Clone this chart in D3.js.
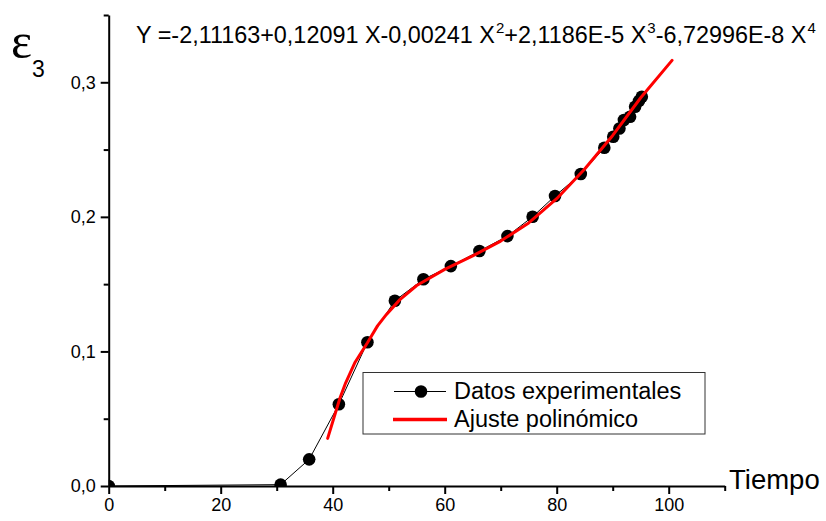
<!DOCTYPE html>
<html>
<head>
<meta charset="utf-8">
<script src="https://cdn.jsdelivr.net/npm/d3@7"></script>
<style>
  html, body { margin: 0; padding: 0; background: #fff; }
  svg { display: block; font-family: "Liberation Sans", Arial, sans-serif; }
</style>
</head>
<body>
<svg id="chart" width="826" height="521"></svg>
<script>
// Experimental strain measurements (time, ε3)
const expTime = [0, 30.7, 35.8, 41.1, 46.2, 51.1, 56.2, 61.1, 66.2, 71.2, 75.7, 79.7, 84.3, 88.5, 90.1, 91.2, 92.0, 93.1, 94.0, 94.7, 95.2];
const expStrain = [0, 0.001, 0.0198, 0.0607, 0.1068, 0.1377, 0.1536, 0.1634, 0.1746, 0.1857, 0.2001, 0.2155, 0.2318, 0.2513, 0.2595, 0.2657, 0.272, 0.2744, 0.2818, 0.2862, 0.2892];

// Polynomial fit curve, sampled points
const fitTime = [39.1, 41.3, 42.3, 44.0, 46.2, 48.0, 49.6, 52.0, 55.0, 60.0, 65.0, 70.0, 75.0, 80.0, 85.0, 90.0, 95.0, 100.6];
const fitStrain = [0.0354, 0.0654, 0.0765, 0.092, 0.1065, 0.119, 0.1275, 0.1385, 0.149, 0.161, 0.171, 0.182, 0.1955, 0.2135, 0.2355, 0.2605, 0.2885, 0.3163];

// Axis ticks
const xMajor = [0, 20, 40, 60, 80, 100];
const xMinor = [10, 30, 50, 70, 90, 110];
const yMajor = [0, 0.1, 0.2, 0.3];
const yMinor = [0.05, 0.15, 0.25, 0.35];

const equation = [
  {t: "Y =-2,11163+0,12091 X-0,00241 X", sup: false},
  {t: "2", sup: true},
  {t: "+2,1186E-5 X", sup: false},
  {t: "3", sup: true},
  {t: "-6,72996E-8 X", sup: false},
  {t: "4", sup: true}
];

const svg = d3.select("#chart");
const x = d3.scaleLinear().domain([0, 110]).range([108.7, 724.7]);
const y = d3.scaleLinear().domain([0, 0.35]).range([486, 15]);

const comma = d => d3.format(".1f")(d).replace(".", ",");

// clip marks to the plotting area
svg.append("defs").append("clipPath").attr("id", "plotArea")
  .append("rect")
  .attr("x", x(0)).attr("y", y(0.35))
  .attr("width", x(110) - x(0)).attr("height", y(0) - y(0.35));

const plot = svg.append("g").attr("clip-path", "url(#plotArea)");

const expData = expTime.map((t, i) => [t, expStrain[i]]);
const fitData = fitTime.map((t, i) => [t, fitStrain[i]]);

const line = d3.line().x(d => x(d[0])).y(d => y(d[1]));

plot.append("path").datum(expData)
  .attr("d", line)
  .attr("fill", "none").attr("stroke", "#000").attr("stroke-width", 1);

plot.selectAll("circle.pt").data(expData).enter().append("circle")
  .attr("class", "pt")
  .attr("cx", d => x(d[0])).attr("cy", d => y(d[1]))
  .attr("r", 6.3).attr("fill", "#000");

plot.append("path").datum(fitData)
  .attr("d", line)
  .attr("fill", "none").attr("stroke", "#ff0000").attr("stroke-width", 3)
  .attr("stroke-linejoin", "round").attr("stroke-linecap", "round");

// X axis
svg.append("g").attr("transform", `translate(0,${y(0)})`)
  .call(d3.axisBottom(x).tickValues(xMajor).tickSize(8).tickSizeOuter(0)
    .tickPadding(4).tickFormat(d3.format("d")));
svg.append("g").attr("transform", `translate(0,${y(0)})`)
  .call(d3.axisBottom(x).tickValues(xMinor).tickSize(5).tickSizeOuter(0).tickFormat(""))
  .select(".domain").remove();

// Y axis
svg.append("g").attr("transform", `translate(${x(0)},0)`)
  .call(d3.axisLeft(y).tickValues(yMajor).tickSize(8).tickSizeOuter(0)
    .tickPadding(5).tickFormat(comma));
svg.append("g").attr("transform", `translate(${x(0)},0)`)
  .call(d3.axisLeft(y).tickValues(yMinor).tickSize(5).tickSizeOuter(0).tickFormat(""))
  .select(".domain").remove();

svg.selectAll(".domain").attr("stroke", "#000").attr("stroke-width", 2);
svg.selectAll(".tick line").attr("stroke", "#000").attr("stroke-width", 2);
svg.selectAll(".tick text")
  .attr("font-family", "Liberation Sans, Arial, sans-serif")
  .attr("font-size", 18).attr("fill", "#000");

// axis titles
svg.append("text").attr("x", 729).attr("y", 489)
  .attr("font-size", 27.5).attr("fill", "#000").text("Tiempo");

const ylab = svg.append("text").attr("x", 11).attr("y", 58).attr("fill", "#000");
ylab.append("tspan").attr("font-family", "Liberation Serif, serif").attr("font-size", 50).text("ε");
ylab.append("tspan").attr("font-size", 23).attr("dy", 19).attr("dx", 0).text("3");

// fitted equation
const eq = svg.append("text").attr("x", 136).attr("y", 43)
  .attr("font-size", 23.4).attr("fill", "#000");
equation.forEach((p, i) => {
  const prevSup = i > 0 && equation[i - 1].sup;
  const ts = eq.append("tspan").text(p.t);
  if (p.sup) ts.attr("font-size", 15).attr("dy", -10).attr("dx", 1);
  else if (prevSup) ts.attr("dy", 10);
});

// legend
const lg = svg.append("g");
lg.append("rect").attr("x", 363).attr("y", 372.5).attr("width", 342).attr("height", 61.5)
  .attr("fill", "#fff").attr("stroke", "#333").attr("stroke-width", 1);
lg.append("line").attr("x1", 394).attr("x2", 446).attr("y1", 391.5).attr("y2", 391.5)
  .attr("stroke", "#000").attr("stroke-width", 1);
lg.append("circle").attr("cx", 421).attr("cy", 391.5).attr("r", 6.3).attr("fill", "#000");
lg.append("text").attr("x", 454).attr("y", 399).attr("font-size", 23.5).attr("fill", "#000")
  .text("Datos experimentales");
lg.append("line").attr("x1", 393).attr("x2", 447).attr("y1", 419.5).attr("y2", 419.5)
  .attr("stroke", "#ff0000").attr("stroke-width", 3.5);
lg.append("text").attr("x", 454).attr("y", 427).attr("font-size", 23.5).attr("fill", "#000")
  .text("Ajuste polinómico");
</script>
</body>
</html>
